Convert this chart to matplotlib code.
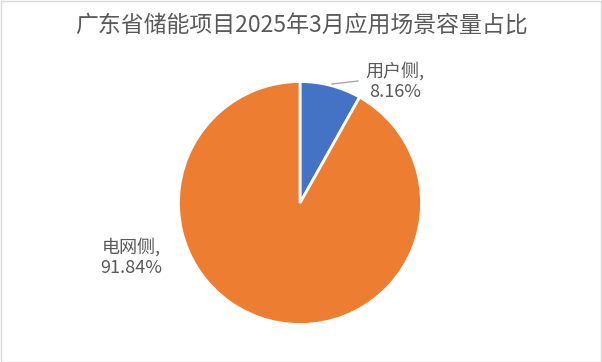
import matplotlib
matplotlib.use("Agg")
import matplotlib.pyplot as plt
from matplotlib.patches import Rectangle

plt.rcParams['font.family'] = ['Noto Sans CJK SC', 'DejaVu Sans']

categories = ["用户侧", "电网侧"]
values = [8.16, 91.84]
colors = ["#4472C4", "#ED7D31"]
title = "广东省储能项目2025年3月应用场景容量占比"

W, H = 602, 362
fig = plt.figure(figsize=(W / 100, H / 100), dpi=100)
fig.patch.set_facecolor("white")
fig.patches.append(Rectangle((0.5 / W, 0.5 / H), (W - 1.5) / W, (H - 1.5) / H,
                             transform=fig.transFigure, fill=False,
                             edgecolor="#D9D9D9", linewidth=1))

cx, cy, r = 300, 203, 121.5
ax = fig.add_axes([(cx - r) / W, (H - cy - r) / H, 2 * r / W, 2 * r / H])
ax.pie(values, colors=colors, startangle=90, counterclock=False, radius=1,
       wedgeprops=dict(edgecolor="white", linewidth=2))
ax.set_xlim(-1, 1)
ax.set_ylim(-1, 1)
ax.set_aspect("equal")
ax.axis("off")

def px(x, y):
    return ((x - cx) / r, (cy - y) / r)

# labels
lab_color = "#595959"
ax.text(*px(395, 81), f"{categories[0]},\n{values[0]:.2f}%", ha="center", va="center",
        fontsize=13, color=lab_color, linespacing=1.15)
ax.text(*px(131, 257), f"{categories[1]},\n{values[1]:.2f}%", ha="center", va="center",
        fontsize=13, color=lab_color, linespacing=1.15)
x0, y0 = px(332, 84)
x1, y1 = px(358, 81)
ax.plot([x0, x1], [y0, y1], color="#A6A6A6", linewidth=1, clip_on=False)

fig.text(0.5, (H - 26) / H, title, ha="center", va="center", fontsize=16.5, color=lab_color)

fig.savefig("out.png", dpi=100)
